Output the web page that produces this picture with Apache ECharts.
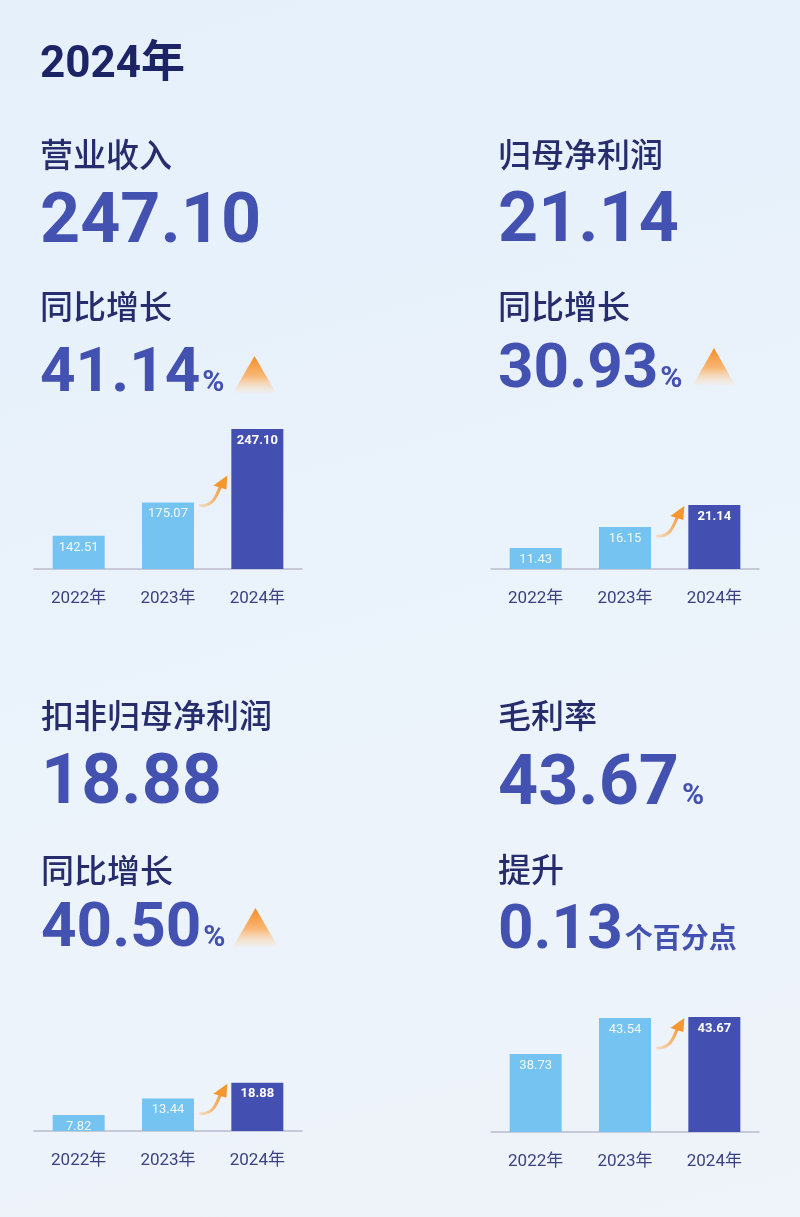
<!DOCTYPE html>
<html><head><meta charset="utf-8">
<script src="https://cdn.jsdelivr.net/npm/echarts@6/dist/echarts.min.js"></script>
<style>
html,body{margin:0;padding:0;}
body{background:linear-gradient(165deg,#e5f0fb 0%,#ebf3fb 55%,#eff3fa 100%);}
#c{width:800px;height:1217px;}
</style>
</head><body><div id="c"></div>
<script>
// ---- data ----
const categories = ['2022年', '2023年', '2024年'];
const revenue = [142.51, 175.07, 247.10];
const netProfit = [11.43, 16.15, 21.14];
const deductedNetProfit = [7.82, 13.44, 18.88];
const grossMargin = [38.73, 43.54, 43.67];
const headerText = '2024年';
const panelTitles = ['营业收入', '归母净利润', '扣非归母净利润', '毛利率'];
const mainValues = ['247.10', '21.14', '18.88', '43.67'];
const mainUnits = ['', '', '', '%'];
const changeLabels = ['同比增长', '同比增长', '同比增长', '提升'];
const changeValues = ['41.14', '30.93', '40.50', '0.13'];
const changeUnits = ['%', '%', '%', '个百分点'];
const seriesValues = [revenue, netProfit, deductedNetProfit, grossMargin];

// ---- layout / style ----
const NAVY = '#1d2466', LABEL = '#262c6c', NUM = '#4351b1';
const LIGHT = '#75c3f1', DARK = '#4350b1';
const NUMFONT = 'Roboto, "Noto Sans CJK SC", sans-serif';
const CJK = '"Noto Sans CJK SC", sans-serif';
const panels = [
  {x: 40, labelY: 154, valueY: 224, subY: 306, changeY: 375, left: 34, top: 420, height: 149, yMin: 110, yMax: 256, tri: [233, 356, 276, 393]},
  {x: 498, labelY: 154, valueY: 223, subY: 306, changeY: 371, left: 491, top: 420, height: 149, yMin: 6.7, yMax: 40.3, tri: [693, 348, 735, 385]},
  {x: 41, labelY: 715, valueY: 785, subY: 870, changeY: 930, left: 34, top: 980, height: 151, yMin: 2.35, yMax: 54, tri: [233, 908, 278, 947]},
  {x: 498, labelY: 715, valueY: 786, subY: 869, changeY: 932, left: 491, top: 980, height: 152, yMin: 28.3, yMax: 48.6, tri: null}
];
const MAIN_SIZE = 70, CHANGE_SIZE = 62, UNIT_SIZE = 30, CJK_UNIT_SIZE = 28;

// text measuring helpers (for placing unit text after the numbers on a shared baseline)
const mctx = document.createElement('canvas').getContext('2d');
function textWidth(t, size) { mctx.font = 'bold ' + size + 'px ' + NUMFONT; return mctx.measureText(t).width; }
mctx.font = 'bold 100px ' + NUMFONT; mctx.textBaseline = 'middle';
const MID_C = mctx.measureText('0').actualBoundingBoxDescent / 100 - 0.01; // baseline offset below 'middle' per px of font size

const chart = echarts.init(document.getElementById('c'), null, {renderer: 'canvas'});

const grids = [], xAxes = [], yAxes = [], series = [];
panels.forEach((p, i) => {
  grids.push({left: p.left, top: p.top, width: 268, height: p.height});
  xAxes.push({
    type: 'category', gridIndex: i, data: categories,
    axisTick: {show: false},
    axisLine: {lineStyle: {color: '#b9bdca', width: 1.5}},
    axisLabel: {color: '#3c4182', fontSize: 17, margin: 21, fontFamily: NUMFONT}
  });
  yAxes.push({type: 'value', gridIndex: i, min: p.yMin, max: p.yMax, show: false, splitLine: {show: false}});
  series.push({
    type: 'bar', xAxisIndex: i, yAxisIndex: i, barWidth: 52,
    data: seriesValues[i].map((v, k) => ({
      value: v,
      itemStyle: {color: k === 2 ? DARK : LIGHT},
      label: {color: k === 2 ? '#ffffff' : 'rgba(255,255,255,0.9)', fontWeight: k === 2 ? 'bold' : 'normal'}
    })),
    label: {show: true, position: 'insideTop', distance: 5, fontSize: 13, fontFamily: NUMFONT,
      formatter: prm => prm.value.toFixed(2)},
    silent: true
  });
});

function numText(x, y, value, size, unit, unitSize, gap) {
  const out = [{type: 'text', x: x, y: y, style: {text: value, fill: NUM, fontSize: size, fontWeight: 'bold', fontFamily: NUMFONT, verticalAlign: 'middle', align: 'left'}}];
  if (unit) {
    out.push({type: 'text', x: x + textWidth(value, size) + gap, y: y + MID_C * (size - unitSize),
      style: {text: unit, fill: NUM, fontSize: unitSize, fontWeight: 'bold', fontFamily: NUMFONT, verticalAlign: 'middle', align: 'left'}});
  }
  return out;
}

let texts = [];
texts.push({type: 'text', x: 40, y: 66, style: {text: headerText, fill: NAVY, fontSize: 44, fontWeight: 'bold', fontFamily: NUMFONT, verticalAlign: 'middle', align: 'left'}});
panels.forEach((p, i) => {
  texts.push({type: 'text', x: p.x, y: p.labelY, style: {text: panelTitles[i], fill: LABEL, fontSize: 33, fontWeight: 500, fontFamily: CJK, verticalAlign: 'middle', align: 'left'}});
  texts = texts.concat(numText(p.x, p.valueY, mainValues[i], MAIN_SIZE, mainUnits[i], UNIT_SIZE, 3));
  texts.push({type: 'text', x: p.x, y: p.subY, style: {text: changeLabels[i], fill: LABEL, fontSize: 33, fontWeight: 500, fontFamily: CJK, verticalAlign: 'middle', align: 'left'}});
  const us = changeUnits[i].length > 1 ? CJK_UNIT_SIZE : UNIT_SIZE;
  texts = texts.concat(numText(p.x, p.changeY, changeValues[i], CHANGE_SIZE, changeUnits[i], us, 2));
  if (p.tri) {
    const [l, t, r, b] = p.tri;
    texts.push({type: 'polygon', shape: {points: [[(l + r) / 2, t], [l, b], [r, b]]},
      style: {fill: new echarts.graphic.LinearGradient(0, 0, 0, 1, [
        {offset: 0, color: '#f48c24'}, {offset: 0.55, color: '#f8b877'}, {offset: 1, color: 'rgba(252,225,196,0.2)'}])}});
  }
});

chart.setOption({animation: false, grid: grids, xAxis: xAxes, yAxis: yAxes, series: series});

// growth arrows between 2023 and 2024 bars, positioned from the bars
const arrows = [];
panels.forEach((p, i) => {
  const vals = seriesValues[i];
  const p23 = chart.convertToPixel({xAxisIndex: i, yAxisIndex: i}, [1, vals[1]]);
  const p24 = chart.convertToPixel({xAxisIndex: i, yAxisIndex: i}, [2, vals[2]]);
  const tipX = p24[0] - 26 - 4;
  const tipY = Math.max(p24[1], p23[1] - 28) + 1;
  const tx = tipX - 27, ty = tipY + 30;
  arrows.push({type: 'bezierCurve',
    shape: {x1: tx, y1: ty, cpx1: tx + 13, cpy1: ty + 1, cpx2: tipX - 11, cpy2: tipY + 20, x2: tipX - 7, y2: tipY + 11},
    style: {fill: 'none', lineWidth: 3, lineCap: 'round', stroke: new echarts.graphic.LinearGradient(0, 0, 1, 0, [
      {offset: 0, color: 'rgba(250,205,160,0.5)'}, {offset: 1, color: '#f5962f'}])}});
  arrows.push({type: 'polygon', shape: {points: [[tipX, tipY], [tipX - 14, tipY + 10], [tipX - 1, tipY + 14]]},
    style: {fill: '#f5962f'}});
});

chart.setOption({graphic: texts.concat(arrows)});
</script>
</body></html>
